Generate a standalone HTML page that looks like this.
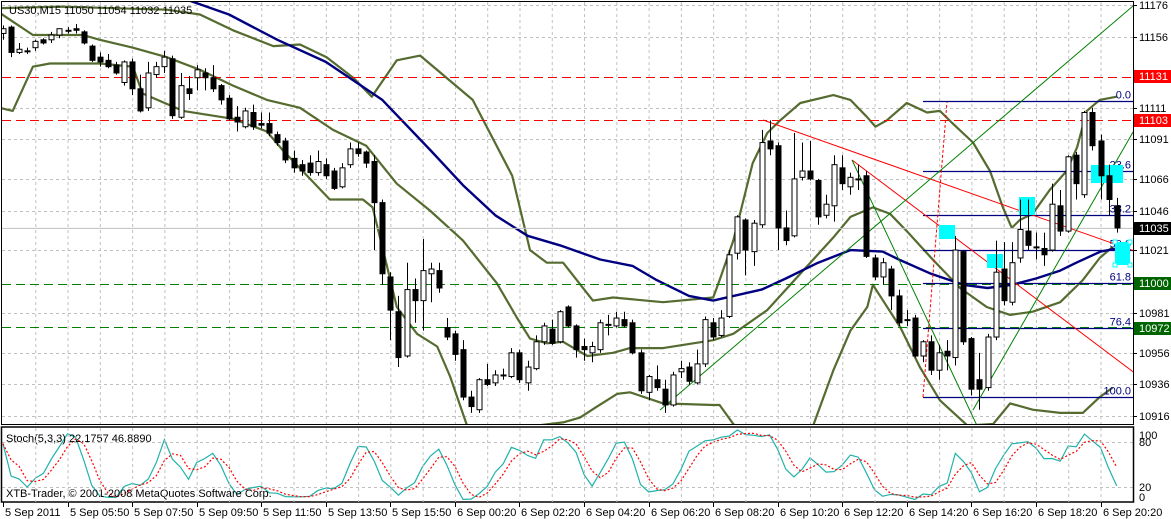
<!DOCTYPE html>
<html><head><meta charset="utf-8">
<style>
html,body{margin:0;padding:0;background:#fff;}
svg{display:block;font-family:"Liberation Sans",sans-serif;}
</style></head>
<body>
<svg id="chart" width="1171" height="519" viewBox="0 0 1171 519" xmlns="http://www.w3.org/2000/svg">
<rect x="0" y="0" width="1171" height="519" fill="#fff"/>
<g id="grid"></g>
<g id="bands"></g>
<g id="ma"></g>
<g id="objects"></g>
<g id="candles"></g>
<g id="stoch"></g>
<g id="axes"></g>
<text x="9" y="14" font-size="11" fill="#000">US30,M15  11050 11054 11032 11035</text>
<text x="6" y="442" font-size="11" fill="#000">Stoch(5,3,3) 22.1757 46.8890</text>
<text x="6" y="497" font-size="11" fill="#000">XTB-Trader, © 2001-2008 MetaQuotes Software Corp.</text>
</svg>
<script>
// ---- data ----
const opens  = [11158,11162,11146,11147,11149,11154,11154,11157,11160,11161,11159,11150,11143,11141,11138,11127,11140,11123,11111,11132,11137,11142,11105,11123,11130,11133,11130,11125,11117,11105,11099,11108,11101,11101,11094,11090,11079,11075,11076,11070,11075,11071,11061,11075,11085,11083,11077,11051,11004,10982,10954,10996,10989,11006,11008,10972,10968,10958,10928,10920,10939,10937,10942,10941,10956,10937,10946,10963,10971,10963,10985,10973,10960,10956,10958,10974,10973,10977,10975,10956,10931,10939,10933,10923,10944,10947,10937,10949,10975,10967,10979,11019,11040,11020,11037,11090,11087,11035,11030,11067,11071,11065,11043,11049,11073,11061,11066,11068,11016,11004,11009,10992,10977,10978,10954,10963,10945,10957,10953,11020,10965,10939,10934,10966,11009,10988,11016,11033,11023,11022,11021,11049,11033,11081,11056,11108,11090,11068,11049];
const closes = [11161,11146,11148,11147,11153,11152,11157,11161,11160,11160,11152,11141,11140,11137,11133,11140,11123,11109,11133,11137,11143,11106,11125,11120,11135,11130,11123,11116,11104,11102,11109,11099,11100,11095,11089,11078,11073,11071,11070,11077,11068,11060,11073,11085,11082,11076,11051,11006,10983,10953,10996,10989,11008,11009,10997,10966,10955,10928,10922,10939,10936,10942,10942,10956,10939,10947,10963,10973,10962,10982,10973,10958,10958,10960,10975,10974,10978,10973,10956,10932,10941,10934,10923,10942,10946,10938,10949,10977,10966,10978,11018,11042,11021,11038,11089,11085,11035,11027,11066,11071,11066,11042,11050,11075,11063,11067,11066,11017,11004,11013,10992,10975,10977,10954,10963,10945,10956,10954,11021,10963,10933,10933,10966,11007,10989,11013,11034,11024,11023,11018,11050,11033,11080,11063,11108,11087,11068,11053,11035];
const highs  = [11163,11163,11152,11149,11154,11155,11159,11161,11162,11164,11160,11151,11146,11145,11140,11141,11142,11132,11140,11140,11147,11144,11133,11131,11138,11136,11138,11126,11119,11112,11111,11113,11108,11108,11096,11092,11084,11078,11081,11084,11079,11073,11076,11089,11089,11084,11081,11053,11007,10992,11013,11003,11028,11013,11013,10978,10970,10964,10932,10940,10949,10945,10946,10959,10958,10951,10967,10975,10977,10983,10986,10974,10965,10963,10977,10980,10982,10982,10977,10958,10942,10948,10939,10944,10951,10950,10958,10979,10978,10983,11021,11043,11041,11040,11097,11103,11089,11046,11095,11089,11090,11066,11056,11081,11081,11070,11075,11071,11018,11016,11011,10996,10983,10980,10964,10967,10961,10964,11030,11021,10966,10956,10968,11027,11026,11026,11053,11053,11032,11032,11063,11059,11081,11083,11109,11111,11094,11075,11054];
const lows   = [11154,11143,11145,11145,11147,11151,11152,11155,11158,11158,11151,11140,11137,11136,11132,11125,11119,11108,11109,11130,11133,11104,11104,11116,11122,11122,11121,11113,11103,11096,11098,11097,11098,11093,11087,11076,11070,11068,11068,11068,11066,11059,11060,11073,11080,11073,11021,10999,10964,10947,10953,10975,10970,10988,10994,10964,10951,10926,10918,10918,10935,10935,10939,10940,10937,10932,10945,10961,10961,10962,10972,10953,10951,10950,10956,10967,10972,10972,10955,10930,10926,10932,10918,10922,10940,10936,10936,10947,10964,10966,10978,11015,11005,11011,11035,11081,11021,11024,11029,11065,11065,11037,11041,11039,11059,11056,11059,11016,11002,10999,10983,10973,10973,10953,10950,10942,10939,10945,10948,10961,10929,10920,10932,10964,10986,10986,11013,11021,11015,11011,11020,11030,11032,11053,11054,11084,11053,11043,11032];
// indicator lines: [bar index, price]
const bbUpperIdx = [-0.4,7.1,20.3,24.4,28.5,33.5,36.8,40.1,43.4,45.7,48.8,51.7,58.2,63.1,65.3,67.4,69.4,73.1,75.6,81.8,88,88.8,90.5,92.9,94.7,96.3,98.8,102.9,105,107.1,108.1,109.5,112,114.5,116.1,117.7,120.2,122.3,123.9,125,126,127.6,129.7,131.8,133.1,134.3,135.9,138];
const bbUpperVal = [11174,11175,11173,11170,11160,11150,11151,11143,11130,11118,11141,11144,11116,11068,11021,11013,11013,10989,10991,10988,10991,11002,11027,11076,11095,11103,11114,11119,11116,11105,11099,11103,11114,11108,11109,11101,11089,11071,11048,11035,11040,11044,11059,11071,11086,11109,11116,11118];
const bbMidIdx = [-0.4,3.7,9.9,12,16.1,20.3,24.4,28.5,32.7,36.8,40.9,45,48.8,52.9,57,61.2,63.7,65.3,67.4,69.4,72.4,75.6,77.7,81.8,88,90.5,94.7,98.8,102.9,105,107.8,109.9,112,115.2,118.6,121.9,124.8,127.6,131,133.8,135.9,137.5];
const bbMidVal = [11171,11157,11157,11154,11149,11143,11135,11125,11116,11111,11097,11087,11063,11046,11027,11000,10978,10965,10962,10963,10954,10956,10959,10959,10964,10968,10983,11006,11029,11042,11048,11044,11033,11015,10997,10985,10980,10982,10988,11002,11016,11023];
const bbLowIdx = [-0.4,1.2,3.7,5.8,12,16.1,17.3,22.3,28.5,32.7,34.7,40.5,44.6,45.8,47.1,48.8,51.3,53.8,55.4,57.5,60.3,66.2,69.4,71.5,73.6,76.1,77.7,81.8,88,88.8,90.5,95,100.4,102.9,105,107.1,107.8,111.2,113.6,116.1,119.5,122.7,124.8,127.6,131,133.8,135.9,137.5];
const bbLowVal = [11111,11109,11137,11139,11139,11137,11120,11109,11104,11096,11084,11053,11053,11048,11021,10985,10968,10960,10941,10910,10888,10910,10912,10915,10922,10930,10931,10924,10923,10923,10911,10894,10910,10945,10970,10985,10999,10972,10947,10926,10910,10911,10924,10920,10918,10918,10928,10934];
const maIdx = [-0.4,23,28,34,40,47,53,57,61,65,69,74,78,81,85,88,94,97,101,105,109,111,115,119,122,125,128,131,133,136,138];
const maVal = [11216,11179,11170,11154,11140,11116,11084,11062,11043,11030,11024,11015,11011,11002,10992,10989,10996,11003,11013,11021,11020,11015,11006,10999,10997,10999,11003,11008,11013,11020,11022];
const priceTicks = [11176,11156,11111,11091,11066,11046,11021,10981,10956,10936,10916];
const fibLevels = [11115,11071,11043,11021,11000,10972,10928];
const fibLabels = ["0.0","23.6","38.2","50.0","61.8","76.4","100.0"];
const timeLabels = ["5 Sep 2011","5 Sep 05:50","5 Sep 07:50","5 Sep 09:50","5 Sep 11:50","5 Sep 13:50","5 Sep 15:50","6 Sep 00:20","6 Sep 02:20","6 Sep 04:20","6 Sep 06:20","6 Sep 08:20","6 Sep 10:20","6 Sep 12:20","6 Sep 14:20","6 Sep 16:20","6 Sep 18:20","6 Sep 20:20"];
const stochLevels = [100,80,20,0];

// ---- scales ----
const NS="http://www.w3.org/2000/svg";
const X0=3, DX=8.07, PTOP=11176, PY0=5, PK=1.581;
const xOf=i=>X0+DX*i;
const yOf=p=>PY0+(PTOP-p)*PK;
const ySt=v=>502-0.75*v;
function mk(tag,attrs,parent){const e=document.createElementNS(NS,tag);for(const k in attrs)e.setAttribute(k,attrs[k]);parent.appendChild(e);return e;}
const G=id=>document.getElementById(id);

const defs=mk('defs',{},G('chart'));
const cp=mk('clipPath',{id:'mainclip'},defs);mk('rect',{x:2,y:2,width:1131,height:422},cp);
const cp2=mk('clipPath',{id:'stclip'},defs);mk('rect',{x:2,y:428,width:1131,height:74},cp2);
['grid','bands','ma','objects','candles'].forEach(id=>G(id).setAttribute('clip-path','url(#mainclip)'));

// grid
const grid=G('grid');
for(let i=4;i<139;i+=4){
  const l=mk('line',{x1:xOf(i)+0.5,x2:xOf(i)+0.5,y1:2,y2:424,stroke:'#c0c0c0','stroke-dasharray':'3,3'},grid);
  
  const l2=mk('line',{x1:xOf(i)+0.5,x2:xOf(i)+0.5,y1:428,y2:502,stroke:'#c0c0c0','stroke-dasharray':'3,3'},grid.parentNode);
  
}
priceTicks.forEach(p=>{const y=Math.round(yOf(p))+0.5;
  const l=mk('line',{x1:2,x2:1133,y1:y,y2:y,stroke:'#c0c0c0','stroke-dasharray':'3,3'},grid);
  });
[80,20].forEach(v=>{const l=mk('line',{x1:2,x2:1133,y1:ySt(v)+0.5,y2:ySt(v)+0.5,stroke:'#c0c0c0','stroke-dasharray':'3,3'},G('stoch'));
  });

function poly(idx,val,parent,color,w,name){
  const pts=idx.map((i,k)=>xOf(i).toFixed(1)+','+yOf(val[k]).toFixed(1)).join(' ');
  const e=mk('polyline',{points:pts,fill:'none',stroke:color,'stroke-width':w,'stroke-linejoin':'round'},parent);
  
}
poly(bbUpperIdx,bbUpperVal,G('bands'),'#556b2f',2.2,'bb-upper');
poly(bbMidIdx,bbMidVal,G('bands'),'#556b2f',2.2,'bb-middle');
poly(bbLowIdx,bbLowVal,G('bands'),'#556b2f',2.2,'bb-lower');
poly(maIdx,maVal,G('ma'),'#000080',2.4,'ma-line');

// drawing objects
const ob=G('objects');
function ln(x1,y1,x2,y2,st,w,dash,name){const e=mk('line',{x1,y1,x2,y2,stroke:st,'stroke-width':w},ob);if(dash)e.setAttribute('stroke-dasharray',dash);
  return e;}
ln(2,77.5,1133,77.5,'#ff0000',1,'9,5','resistance-line-11131');
ln(2,120.5,1133,120.5,'#ff0000',1,'9,5','resistance-line-11103');
ln(2,284.5,1133,284.5,'#008000',1,'9,5','support-line-11000');
ln(2,327.5,1133,327.5,'#008000',1,'9,5','support-line-10972');
ln(2,yOf(closes[closes.length-1])+0.5,1133,yOf(closes[closes.length-1])+0.5,'#c0c0c0',1,null,'bid-line');
fibLevels.forEach((p,k)=>{const y=Math.round(yOf(p))+0.5;
  ln(923,y,1133,y,'#000080',1.3,null,'fib-level-'+fibLabels[k]);
  const t=mk('text',{x:1131,y:y-3,'font-size':11,fill:'#000080','text-anchor':'end'},ob);t.textContent=fibLabels[k];
  });
ln(923,397,947,102,'#ff0000',1,'3,2','fib-anchor-line');
ln(763,120,1140,253,'#ff0000',1,null,'red-trendline-1');
ln(852,160,1140,377,'#ff0000',1,null,'red-trendline-2');
ln(660,410,1140,0,'#008000',1,null,'green-trendline-1');
ln(852,160,980,432,'#008000',1,null,'green-trendline-2');
ln(973,410,1140,120,'#008000',1,null,'green-trendline-3');
[[939,225,16,14],[987,254,16,14],[1019,197,16,18],[1091,165,32,18],[1115,242,15,23]].forEach(r=>{
  const e=mk('rect',{x:r[0],y:r[1],width:r[2],height:r[3],fill:'#00ffff'},ob);
  });
[[1113,240],[1128,240],[1113,263],[1128,263]].forEach(h=>{const e=mk('rect',{x:h[0],y:h[1],width:4,height:4,fill:'#fff',stroke:'#00ffff'},ob);
  });

// candles
const cg=G('candles');
opens.forEach((o,i)=>{
  const c=closes[i],x=Math.round(xOf(i));
  const w=mk('line',{x1:x+0.5,x2:x+0.5,y1:yOf(highs[i]),y2:yOf(lows[i]),stroke:'#000','stroke-width':1},cg);
  
  const top=yOf(Math.max(o,c)),bot=yOf(Math.min(o,c));
  const h=Math.max(1,bot-top);
  const b=mk('rect',{x:x-2,y:top,width:5,height:h,fill:c>=o?'#fff':'#000',stroke:'#000','stroke-width':1},cg);
  
});

// stochastic (5,3,3) from candle data
const n=closes.length,num=[],den=[],K=[],D=[];
for(let i=0;i<n;i++){let hh=-1e9,ll=1e9;for(let j=Math.max(0,i-4);j<=i;j++){hh=Math.max(hh,highs[j]);ll=Math.min(ll,lows[j]);}num.push(closes[i]-ll);den.push(hh-ll);}
for(let i=0;i<n;i++){let a=0,b=0;for(let j=Math.max(0,i-2);j<=i;j++){a+=num[j];b+=den[j];}K.push(b?100*a/b:50);}
for(let i=0;i<n;i++){let s=0,c=0;for(let j=Math.max(0,i-2);j<=i;j++){s+=K[j];c++;}D.push(s/c);}
const sg=mk('g',{'clip-path':'url(#stclip)'},G('stoch'));
const kl=mk('polyline',{points:K.map((v,i)=>xOf(i).toFixed(1)+','+ySt(v).toFixed(1)).join(' '),fill:'none',stroke:'#20b2aa','stroke-width':1.2},sg);

const dl=mk('polyline',{points:D.map((v,i)=>xOf(i).toFixed(1)+','+ySt(v).toFixed(1)).join(' '),fill:'none',stroke:'#ff0000','stroke-width':1.2,'stroke-dasharray':'2,2'},sg);


// axes & frames
const ax=G('axes');
let e=mk('rect',{x:1.5,y:1.5,width:1132,height:423,fill:'none',stroke:'#000','stroke-width':1},ax);

e=mk('rect',{x:1.5,y:427,width:1132,height:75,fill:'none',stroke:'#000','stroke-width':1.5},ax);

priceTicks.forEach(p=>{const y=Math.round(yOf(p));
  const t=mk('line',{x1:1133,x2:1137,y1:y+0.5,y2:y+0.5,stroke:'#000'},ax);
  const tx=mk('text',{x:1139,y:y+4,'font-size':11,fill:'#000'},ax);tx.textContent=p;
  });
function tag(p,bg,fg,name){const y=Math.round(yOf(p));
  const r=mk('rect',{x:1134,y:y-6,width:37,height:13,fill:bg},ax);
  const t=mk('text',{x:1139,y:y+4,'font-size':11,fill:fg},ax);t.textContent=p;}
tag(11131,'#ff0000','#fff','price-tag-11131');
tag(11103,'#ff0000','#fff','price-tag-11103');
tag(11035,'#000','#fff','price-tag-current');
tag(11000,'#006400','#fff','price-tag-11000');
tag(10972,'#006400','#fff','price-tag-10972');
stochLevels.forEach(v=>{const yy={100:435,80:442,20:487,0:497}[v];
  const t=mk('text',{x:1139,y:yy+4,'font-size':11,fill:'#000'},ax);t.textContent=v;
  });
timeLabels.forEach((s,k)=>{const x=Math.round(xOf(8*k));
  const t=mk('line',{x1:x+0.5,x2:x+0.5,y1:502,y2:507,stroke:'#000'},ax);
  const tx=mk('text',{x:x+2,y:516,'font-size':11,fill:'#000'},ax);tx.textContent=s;
  });
</script>
</body></html>
